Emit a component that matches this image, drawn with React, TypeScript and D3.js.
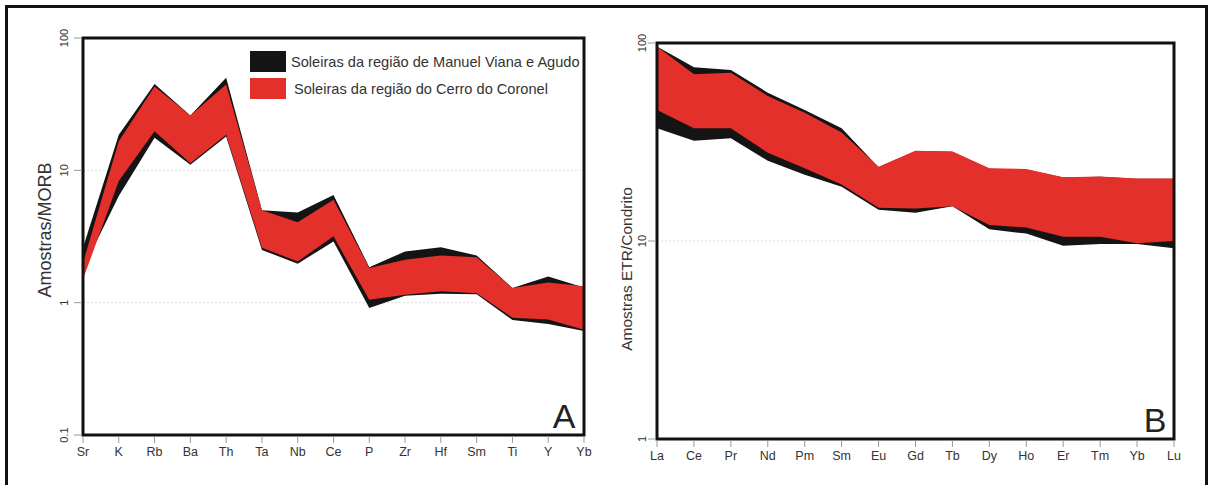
import React from 'react';
import * as d3 from 'd3';

// Panel A: MORB-normalised spider diagram
const elementsA = ['Sr', 'K', 'Rb', 'Ba', 'Th', 'Ta', 'Nb', 'Ce', 'P', 'Zr', 'Hf', 'Sm', 'Ti', 'Y', 'Yb'];
const agudoUpperA = [2.6, 18.6, 45, 26, 50, 5.0, 4.8, 6.5, 1.85, 2.44, 2.62, 2.27, 1.29, 1.58, 1.3];
const agudoLowerA = [1.8, 6.4, 17.6, 11, 18, 2.5, 1.97, 2.9, 0.91, 1.13, 1.17, 1.16, 0.74, 0.69, 0.61];
const coronelUpperA = [2.0, 16.6, 43, 26, 44.5, 5.0, 4.05, 6.0, 1.83, 2.11, 2.27, 2.2, 1.29, 1.42, 1.33];
const coronelLowerA = [1.5, 8.3, 19.7, 11.3, 18.6, 2.6, 2.05, 3.17, 1.05, 1.15, 1.22, 1.18, 0.77, 0.745, 0.625];
const ticksA = [0.1, 1, 10, 100];

// Panel B: chondrite-normalised REE
const elementsB = ['La', 'Ce', 'Pr', 'Nd', 'Pm', 'Sm', 'Eu', 'Gd', 'Tb', 'Dy', 'Ho', 'Er', 'Tm', 'Yb', 'Lu'];
const agudoUpperB = [96, 75.4, 73.1, 56.1, 45.9, 37.1, 23.6, 28.5, 28.2, 23.2, 23.0, 20.9, 21.1, 20.6, 20.6];
const agudoLowerB = [37.1, 32.1, 33.0, 25.4, 21.6, 18.8, 14.4, 13.9, 15.0, 11.45, 10.9, 9.46, 9.66, 9.66, 9.19];
const coronelUpperB = [96, 69.5, 70.8, 54, 44.5, 35.3, 23.7, 28.6, 28.3, 23.3, 23.1, 21.0, 21.2, 20.7, 20.7];
const coronelLowerB = [45.9, 37.1, 37.1, 27.9, 23.3, 19.3, 14.7, 14.6, 15.0, 12.05, 11.7, 10.5, 10.5, 9.74, 10.0];
const ticksB = [1, 10, 100];

const legendLabels = ['Soleiras da região de Manuel Viana e Agudo', 'Soleiras da região do Cerro do Coronel'];

const RED = '#e4302a';
const BLACK = '#141414';
const FONT = '"Liberation Sans", Arial, sans-serif';

type PanelProps = {
  x0: number; x1: number; y0: number; y1: number;
  cats: string[];
  domain: [number, number];
  ticks: number[];
  bands: { upper: number[]; lower: number[]; color: string }[];
  yTitle: string; titleX: number; titleY: number; titleSize: number;
  tickLabelX: number;
  letter: string; letterX: number;
};

const Panel = (p: PanelProps) => {
  const x = d3.scalePoint<string>().domain(p.cats).range([p.x0, p.x1]);
  const y = d3.scaleLog().domain(p.domain).range([p.y1, p.y0]);
  const clipId = 'clip-' + p.letter;

  return (
    <g>
      <defs>
        <clipPath id={clipId}>
          <rect x={p.x0} y={p.y0} width={p.x1 - p.x0} height={p.y1 - p.y0} />
        </clipPath>
      </defs>
      {/* faint grid lines */}
      {p.ticks.slice(1, -1).map(t => (
        <line key={'g' + t} x1={p.x0} x2={p.x1} y1={y(t)} y2={y(t)}
          stroke="#dcdcdc" strokeWidth={1} strokeDasharray="2,2" />
      ))}
      <g clipPath={`url(#${clipId})`}>
        {p.bands.map((b, i) => {
          const area = d3.area<number>()
            .x((_, j) => x(p.cats[j]) as number)
            .y0((_, j) => y(b.lower[j]))
            .y1((_, j) => y(b.upper[j]));
          return <path key={i} d={area(b.upper) || ''} fill={b.color} />;
        })}
      </g>
      <rect x={p.x0} y={p.y0} width={p.x1 - p.x0} height={p.y1 - p.y0}
        fill="none" stroke="#111" strokeWidth={3} />
      {/* y ticks */}
      {p.ticks.map(t => (
        <g key={'y' + t}>
          <line x1={p.x0 - 9} x2={p.x0 - 1.5} y1={y(t)} y2={y(t)} stroke="#999" strokeWidth={1} />
          <text transform={`translate(${p.tickLabelX},${y(t)}) rotate(-90)`}
            textAnchor="middle" fontSize={11} fill="#333" fontFamily={FONT}>{t}</text>
        </g>
      ))}
      {/* x ticks */}
      {p.cats.map(c => (
        <g key={'x' + c}>
          <line x1={x(c)} x2={x(c)} y1={p.y1 + 1.5} y2={p.y1 + 8} stroke="#999" strokeWidth={1} />
          <text x={x(c)} y={p.y1 + 21} textAnchor="middle" fontSize={12.5} fill="#333" fontFamily={FONT}>{c}</text>
        </g>
      ))}
      <text transform={`translate(${p.titleX},${p.titleY}) rotate(-90)`}
        textAnchor="middle" fontSize={p.titleSize} fill="#333" fontFamily={FONT}>{p.yTitle}</text>
      <text x={p.letterX} y={p.y1 - 7} textAnchor="middle" fontSize={34} fill="#222" fontFamily={FONT}>{p.letter}</text>
    </g>
  );
};

export default function App() {
  return (
    <svg width={1211} height={485} style={{ position: 'absolute', left: 0, top: 0, background: '#fff' }}>
      <rect x={0} y={0} width={1211} height={485} fill="#fff" />
      <rect x={6.5} y={6.5} width={1200} height={500} fill="none" stroke="#111" strokeWidth={3} />
      <Panel x0={83} x1={584} y0={38} y1={435} cats={elementsA} domain={[0.1, 100]} ticks={ticksA}
        bands={[
          { upper: agudoUpperA, lower: agudoLowerA, color: BLACK },
          { upper: coronelUpperA, lower: coronelLowerA, color: RED },
        ]}
        yTitle="Amostras/MORB" titleX={51} titleY={230} titleSize={18} tickLabelX={68} letter="A" letterX={564} />
      <Panel x0={657} x1={1174} y0={43} y1={439} cats={elementsB} domain={[1, 100]} ticks={ticksB}
        bands={[
          { upper: agudoUpperB, lower: agudoLowerB, color: BLACK },
          { upper: coronelUpperB, lower: coronelLowerB, color: RED },
        ]}
        yTitle="Amostras ETR/Condrito" titleX={632} titleY={269} titleSize={15.5} tickLabelX={646} letter="B" letterX={1155} />
      {/* legend */}
      {legendLabels.map((label, i) => (
        <g key={label}>
          <rect x={250} y={51 + i * 27} width={36} height={21} fill={i === 0 ? BLACK : RED} />
          <text x={i === 0 ? 291 : 294} y={67 + i * 27} fontSize={14.6} fill="#333" fontFamily={FONT}>{label}</text>
        </g>
      ))}
    </svg>
  );
}
